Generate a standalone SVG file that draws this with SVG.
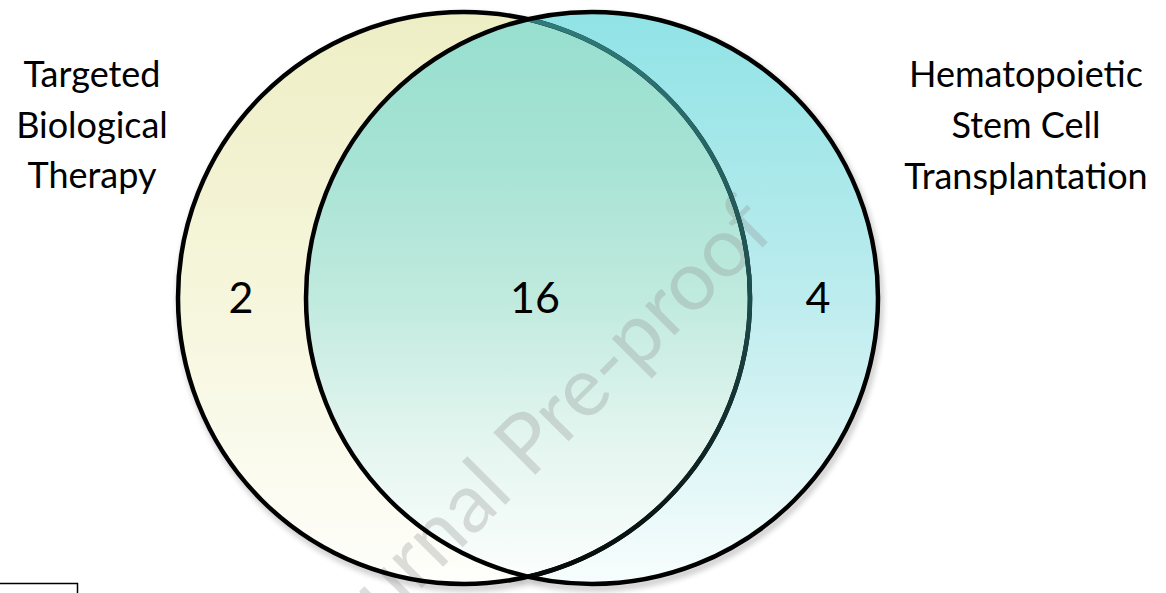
<svg xmlns="http://www.w3.org/2000/svg" width="1166" height="593" viewBox="0 0 1166 593">
<style>
.lbl{font-family:Lato,"Liberation Sans",sans-serif;font-size:36px;fill:#000;text-anchor:middle}
.num{font-family:Lato,"Liberation Sans",sans-serif;font-size:43px;fill:#000;text-anchor:middle}
.ring{fill:none;stroke:#000;stroke-width:4.5}
.wm{font-family:Lato,"Liberation Sans",sans-serif;font-size:83px;fill:#8f8f8f;fill-opacity:0.3}
</style>
<defs>
<linearGradient id="gy" gradientUnits="userSpaceOnUse" x1="0" y1="12" x2="0" y2="584">
<stop offset="0" stop-color="#eeeec5"/><stop offset="0.5" stop-color="#f6f6dc"/><stop offset="1" stop-color="#fefefb"/>
</linearGradient>
<linearGradient id="gc" gradientUnits="userSpaceOnUse" x1="0" y1="12" x2="0" y2="584">
<stop offset="0" stop-color="#90e3e6"/><stop offset="0.5" stop-color="#bdecee"/><stop offset="1" stop-color="#f8fdfd"/>
</linearGradient>
<linearGradient id="gm" gradientUnits="userSpaceOnUse" x1="0" y1="19" x2="0" y2="577">
<stop offset="0" stop-color="#97dfcf"/><stop offset="0.25" stop-color="#a6e3d4"/><stop offset="0.5" stop-color="#c0eade"/><stop offset="0.75" stop-color="#e3f5ef"/><stop offset="1" stop-color="#fbfefd"/>
</linearGradient>
<linearGradient id="ga" gradientUnits="userSpaceOnUse" x1="0" y1="19" x2="0" y2="577">
<stop offset="0" stop-color="#2f7b7b"/><stop offset="0.5" stop-color="#1c4c4c"/><stop offset="1" stop-color="#050808"/>
</linearGradient>
<filter id="sh" x="-10%" y="-10%" width="120%" height="120%">
<feGaussianBlur stdDeviation="3"/>
</filter>
</defs>

<g id="shadow" opacity="0.3" filter="url(#sh)" transform="translate(2,4)">
<circle cx="464" cy="298" r="286" class="ring" stroke-width="5"/>
<circle cx="592" cy="298" r="286" class="ring" stroke-width="5"/>
</g>

<g id="set-left">
<circle cx="464" cy="298" r="286" fill="url(#gy)"/>
</g>
<g id="set-right">
<circle cx="592" cy="298" r="286" fill="url(#gc)"/>
</g>
<g id="overlap">
<path d="M528,19.25 A286,286 0 0,1 528,576.75 A286,286 0 0,1 528,19.25 Z" fill="url(#gm)"/>
</g>

<text class="wm" x="328" y="682" transform="rotate(-45 328 682)">Journal Pre-proof</text>

<g id="outlines">
<circle cx="464" cy="298" r="286" class="ring"/>
<path d="M528,19.25 A286,286 0 0,1 528,576.75" fill="none" stroke="url(#ga)" stroke-width="4.5"/>
<circle cx="592" cy="298" r="286" class="ring"/>
</g>

<g id="label-left">
<text class="lbl" x="92" y="87">Targeted</text>
<text class="lbl" x="92" y="138">Biological</text>
<text class="lbl" x="92" y="188">Therapy</text>
</g>
<g id="label-right">
<text class="lbl" x="1026" y="87">Hematopoietic</text>
<text class="lbl" x="1026" y="138">Stem Cell</text>
<text class="lbl" x="1026" y="189">Transplantation</text>
</g>
<g id="counts">
<text class="num" x="241" y="313">2</text>
<text class="num" x="535" y="313">16</text>
<text class="num" x="818" y="313">4</text>
</g>

<path id="corner-box" d="M0,583.5 H77.5 V593" fill="none" stroke="#000" stroke-width="1.5"/>
</svg>
